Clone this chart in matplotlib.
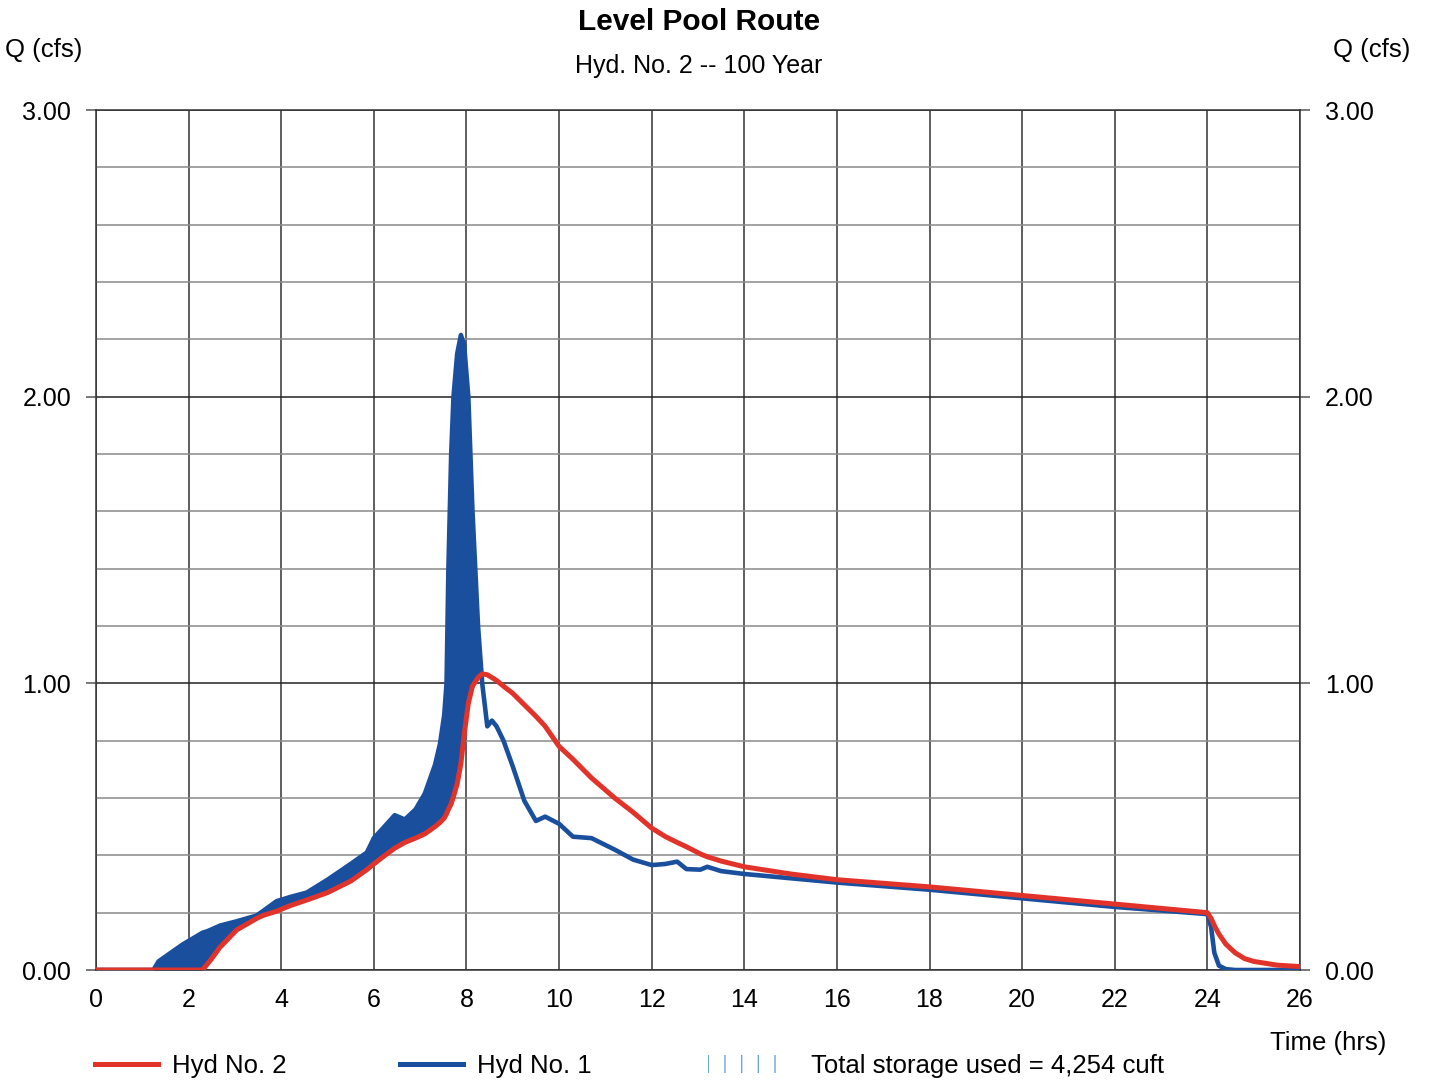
import numpy as np
import matplotlib
matplotlib.use("Agg")
import matplotlib.pyplot as plt
from matplotlib.lines import Line2D
from matplotlib.patches import Patch

plt.rcParams["font.family"] = ["Liberation Sans", "DejaVu Sans"]
plt.rcParams["font.size"] = 18

# time (hrs), inflow (Hyd No. 1) and routed outflow (Hyd No. 2), cfs
time_hrs = [0, 1.24, 1.35, 1.88, 2.3, 2.4, 2.5, 2.68, 3.04, 3.47, 3.6, 3.9, 4.2, 4.55,
            5.0, 5.5, 5.85, 6.0, 6.2, 6.45, 6.67, 6.9, 7.1, 7.32, 7.43, 7.52, 7.57, 7.61,
            7.67, 7.72, 7.8, 7.88, 7.95, 8.04, 8.13, 8.25, 8.34, 8.45, 8.55, 8.65, 8.8,
            9.0, 9.25, 9.5, 9.7, 10.0, 10.3, 10.7, 11.2, 11.6, 12.0, 12.3, 12.55, 12.75,
            13.05, 13.2, 13.5, 14.0, 15.0, 16.0, 18.0, 20.0, 22.0, 24.0, 24.08, 24.15,
            24.25, 24.4, 24.6, 24.8, 25.0, 25.5, 26.0]
hyd1 = [0, 0, 0.03, 0.09, 0.13, 0.135, 0.142, 0.155, 0.17, 0.19, 0.205, 0.24, 0.255,
        0.27, 0.315, 0.37, 0.41, 0.46, 0.495, 0.54, 0.525, 0.56, 0.615, 0.715, 0.79,
        0.89, 1.0, 1.4, 1.8, 2.0, 2.15, 2.215, 2.18, 2.0, 1.6, 1.2, 1.0, 0.85, 0.87,
        0.85, 0.80, 0.71, 0.59, 0.52, 0.535, 0.51, 0.465, 0.46, 0.42, 0.385, 0.366,
        0.37, 0.378, 0.352, 0.35, 0.36, 0.345, 0.335, 0.32, 0.305, 0.28, 0.25, 0.22,
        0.195, 0.15, 0.06, 0.015, 0.003, 0, 0, 0, 0, 0]
hyd2 = [0, 0, 0, 0, 0, 0.02, 0.04, 0.08, 0.14, 0.18, 0.19, 0.205, 0.225, 0.244, 0.27,
        0.31, 0.35, 0.37, 0.395, 0.425, 0.445, 0.46, 0.475, 0.50, 0.515, 0.53, 0.545,
        0.56, 0.58, 0.605, 0.65, 0.72, 0.82, 0.93, 0.99, 1.02, 1.033, 1.03, 1.02, 1.01,
        0.99, 0.965, 0.925, 0.885, 0.85, 0.78, 0.735, 0.67, 0.60, 0.55, 0.495, 0.465,
        0.445, 0.43, 0.405, 0.395, 0.38, 0.36, 0.335, 0.315, 0.29, 0.26, 0.23, 0.20,
        0.18, 0.155, 0.125, 0.09, 0.06, 0.04, 0.03, 0.017, 0.012]

red = "#e2332b"
blue = "#1a4f9e"

t = np.array(time_hrs)
q1 = np.array(hyd1)
q2 = np.array(hyd2)

fig = plt.figure(figsize=(14.29, 10.82), dpi=100)
ax = fig.add_axes([96 / 1429, 1 - 970 / 1082, 1204 / 1429, 860 / 1082])

# storage = area where inflow is above outflow
ax.fill_between(t, q2, q1, where=q1 >= q2, interpolate=True, color=blue, lw=0, zorder=2)
ax.plot(t, q1, color=blue, lw=3.3, zorder=3, solid_joinstyle="round")
ax.plot(t, q2, color=red, lw=3.6, zorder=4, solid_joinstyle="round")

ax.set_xlim(0, 26)
ax.set_ylim(0, 3)
ax.set_xticks(np.arange(0, 27, 2))
ax.set_yticks([0, 1, 2, 3])
ax.set_yticks(np.arange(0.2, 3, 0.2), minor=True)
ax.set_yticklabels(["0.00", "1.00", "2.00", "3.00"])
ax.grid(axis="x", color="#333333", lw=1.1)
ax.grid(axis="y", which="major", color="#222222", lw=1.1)
ax.grid(axis="y", which="minor", color="#8a8a8a", lw=1.1)
for s in ax.spines.values():
    s.set_color("#333333")
    s.set_linewidth(1.1)
ax.tick_params(axis="x", length=0, pad=13, labelsize=18)
ax.tick_params(axis="y", which="major", direction="out", length=7, width=1.1,
               color="#555555", left=True, right=True, labelleft=True, labelright=True,
               labelsize=18, pad=11)
ax.tick_params(axis="y", which="minor", length=0)

fig.text(699 / 1429, 1 - 22 / 1082, "Level Pool Route", ha="center", va="center",
         fontsize=21.5, fontweight="bold")
fig.text(699 / 1429, 1 - 66 / 1082, "Hyd. No. 2 -- 100 Year", ha="center", va="center",
         fontsize=18)
fig.text(5 / 1429, 1 - 50 / 1082, "Q (cfs)", ha="left", va="center", fontsize=18.5)
fig.text(1410 / 1429, 1 - 50 / 1082, "Q (cfs)", ha="right", va="center", fontsize=18.5)
fig.text(1386 / 1429, 1 - 1043 / 1082, "Time (hrs)", ha="right", va="center", fontsize=18.5)

# legend row: two hydrographs, then the storage hatch with a longer swatch
line_handles = [Line2D([], [], color=red, lw=3.6), Line2D([], [], color=blue, lw=3.6)]
fig.legend(line_handles, ["Hyd No. 2", "Hyd No. 1"], loc="center left",
           bbox_to_anchor=(95 / 1429, 1 - 1066 / 1082), ncol=2, frameon=False,
           fontsize=18.5, handlelength=2.45, handletextpad=0.55, columnspacing=4.4,
           borderpad=0, borderaxespad=0)
storage_handle = Patch(facecolor="white", edgecolor="#6fa3dc", hatch="|", lw=0)
fig.legend([storage_handle], ["Total storage used = 4,254 cuft"], loc="center left",
           bbox_to_anchor=(708 / 1429, 1 - 1066 / 1082), frameon=False, fontsize=18.5,
           handlelength=3.2, handletextpad=0.8, borderpad=0, borderaxespad=0)

fig.savefig("out.png", dpi=100)
